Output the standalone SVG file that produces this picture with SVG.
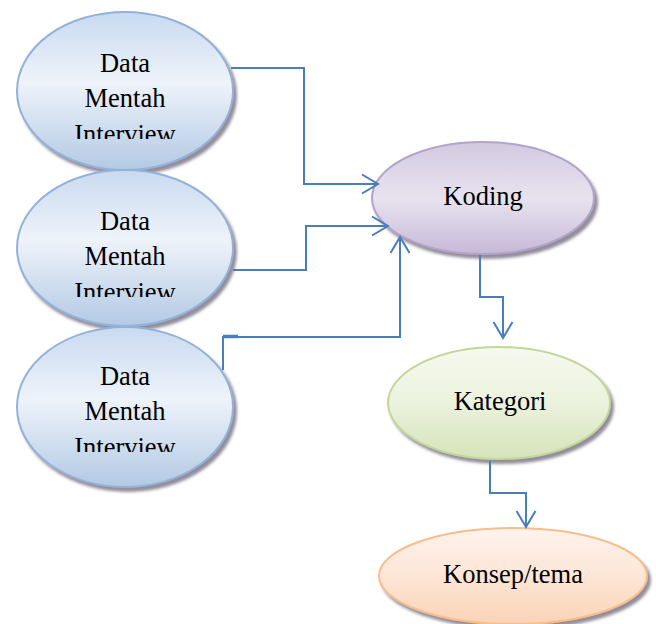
<svg xmlns="http://www.w3.org/2000/svg" width="656" height="624" viewBox="0 0 656 624">
<defs>
<linearGradient id="gBlue" x1="0" y1="0" x2="0" y2="1">
<stop offset="0" stop-color="#c9daf0"/><stop offset="0.45" stop-color="#eef3fa"/><stop offset="1" stop-color="#b3c9e4"/>
</linearGradient>
<linearGradient id="gPurple" x1="0" y1="0" x2="0" y2="1">
<stop offset="0" stop-color="#d3c9e0"/><stop offset="0.5" stop-color="#e8e3ef"/><stop offset="1" stop-color="#c6b9d8"/>
</linearGradient>
<linearGradient id="gGreen" x1="0" y1="0" x2="0" y2="1">
<stop offset="0" stop-color="#f6f9ef"/><stop offset="0.5" stop-color="#ebf2dd"/><stop offset="1" stop-color="#d5e3b9"/>
</linearGradient>
<linearGradient id="gOrange" x1="0" y1="0" x2="0" y2="1">
<stop offset="0" stop-color="#fef3ec"/><stop offset="0.5" stop-color="#fde6d6"/><stop offset="1" stop-color="#fbd3b6"/>
</linearGradient>
<filter id="sh" x="-10%" y="-10%" width="125%" height="130%">
<feDropShadow dx="3" dy="4" stdDeviation="1.5" flood-color="#6e6878" flood-opacity="0.75"/>
</filter>
<clipPath id="c1"><rect x="0" y="0" width="260" height="139"/></clipPath>
<clipPath id="c2"><rect x="0" y="170" width="260" height="127"/></clipPath>
<clipPath id="c3"><rect x="0" y="330" width="260" height="122"/></clipPath>
<marker id="arr" markerWidth="22" markerHeight="22" refX="17" refY="11" orient="auto" markerUnits="userSpaceOnUse">
<path d="M1,1.5 L17,11 L1,20.5" fill="none" stroke="#4a7ebb" stroke-width="2"/>
</marker>
</defs>
<style>
.lbl{font-family:"Liberation Serif","Times New Roman",serif;font-size:26.5px;fill:#000;text-anchor:middle}
.conn{fill:none;stroke:#4a7ebb;stroke-width:2}
.blue{fill:url(#gBlue);stroke:#94b2d8;stroke-width:2;filter:url(#sh)}
</style>
<g id="node-data1">
<ellipse class="blue" cx="125" cy="91" rx="108" ry="79"/>
<g clip-path="url(#c1)">
<text class="lbl" x="125" y="72">Data</text>
<text class="lbl" x="125" y="107">Mentah</text>
<text class="lbl" x="125" y="143">Interview</text>
</g>
</g>
<g id="node-data2">
<ellipse class="blue" cx="125" cy="248" rx="108" ry="78"/>
<g clip-path="url(#c2)">
<text class="lbl" x="125" y="230">Data</text>
<text class="lbl" x="125" y="265">Mentah</text>
<text class="lbl" x="125" y="301">Interview</text>
</g>
</g>
<g id="node-data3">
<ellipse class="blue" cx="125" cy="407" rx="108" ry="80"/>
<g clip-path="url(#c3)">
<text class="lbl" x="125" y="385">Data</text>
<text class="lbl" x="125" y="420">Mentah</text>
<text class="lbl" x="125" y="456">Interview</text>
</g>
</g>
<g id="node-koding">
<ellipse cx="483" cy="198" rx="111" ry="56" fill="url(#gPurple)" stroke="#b3a3c9" stroke-width="2" filter="url(#sh)"/>
<text class="lbl" x="483" y="205">Koding</text>
</g>
<g id="node-kategori">
<ellipse cx="499" cy="403" rx="111" ry="56" fill="url(#gGreen)" stroke="#c3d69b" stroke-width="2" filter="url(#sh)"/>
<text class="lbl" x="500" y="410">Kategori</text>
</g>
<g id="node-konsep">
<ellipse cx="513" cy="576" rx="134" ry="48" fill="url(#gOrange)" stroke="#f8bd8c" stroke-width="2" filter="url(#sh)"/>
<text class="lbl" x="513" y="583">Konsep/tema</text>
</g>
<g id="connectors">
<path class="conn" d="M231,68 H304 V184 H378" marker-end="url(#arr)"/>
<path class="conn" d="M233,270 H306 V226 H388" marker-end="url(#arr)"/>
<path class="conn" d="M223,370 V337 H400 V237" marker-end="url(#arr)"/>
<path d="M223,336.5 H238" stroke="#4a7ebb" stroke-width="3.5"/>
<path class="conn" d="M480,255 V297 H503 V338" marker-end="url(#arr)"/>
<path class="conn" d="M490,461 V493 H526 V527" marker-end="url(#arr)"/>
</g>
</svg>
